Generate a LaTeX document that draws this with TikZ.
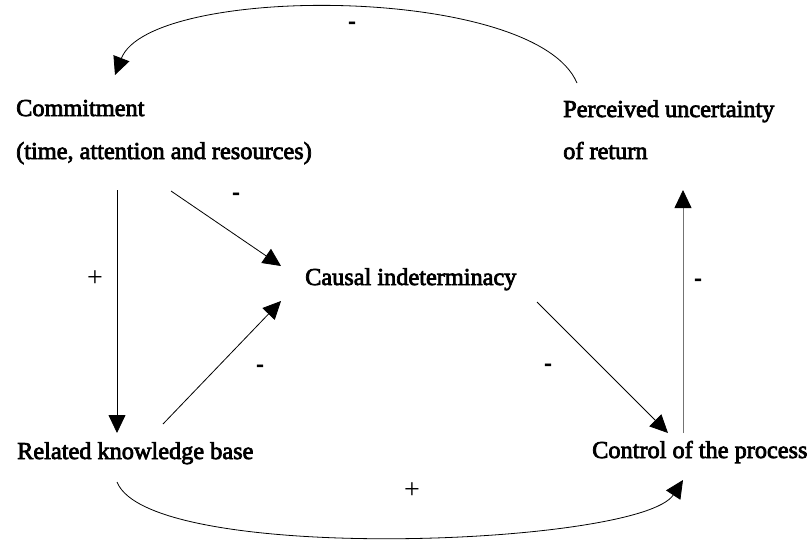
\documentclass[tikz,border=0pt]{standalone}
\usepackage{fontspec}
\setmainfont{Liberation Serif}[FakeBold=3]
\newfontfamily\signfont{Liberation Serif}
\usetikzlibrary{arrows.meta,calc}

\tikzset{
  label text/.style={inner sep=0pt, anchor=base west, font=\fontsize{24.3}{29}\selectfont},
  minus sign/.style={inner sep=0pt, font=\fontsize{22}{26}\selectfont\bfseries},
  plus sign/.style={inner sep=0pt, font=\signfont\fontsize{28}{32}\selectfont},
  link/.style={line width=0.8pt, -{Triangle[length=18pt,width=17pt,color=black]}},
}

\begin{document}
\begin{tikzpicture}[x=1pt, y=-1pt]
\useasboundingbox (0,0) rectangle (809,539);

% factor labels
\node[label text] (commit)    at (16,116)  {Commitment};
\node[label text] (commitsub) at (16,159)  {(time, attention and resources)};
\node[label text] (perceived) at (563,117) {Perceived uncertainty};
\node[label text] (ofreturn)  at (563,159) {of return};
\node[label text] (causal)    at (305,285) {Causal indeterminacy};
\node[label text] (related)   at (17,459)  {Related knowledge base};
\node[label text] (control)   at (592,458) {Control of the process};

% feedback loop over the top
\draw[link] ($(perceived.base west)+(14,-34)$)
  .. controls (535,-16) and (150,-16) .. ($(commit.base west)+(99,-41)$);

% feedback loop underneath
\draw[link] ($(related.base west)+(100,23)$)
  .. controls (150,565) and (640,546) .. ($(control.base west)+(91,22)$);

% straight links
\draw[link] ($(commitsub.base west)+(101,31)$) -- ($(related.base west)+(100,-26)$);
\draw[link] ($(commitsub.base west)+(155,32)$) -- ($(causal.base west)+(-24,-19)$);
\draw[link] ($(related.base west)+(146,-35)$) -- ($(causal.base west)+(-24,16)$);
\draw[link] ($(causal.base west)+(232,17)$) -- ($(control.base west)+(76,-25)$);
\draw[link, draw=black!55] ($(control.base west)+(91,-25)$) -- ($(ofreturn.base west)+(120,31)$);

% link polarities
\node[minus sign] (s1) at (352,25)  {-};
\node[minus sign] (s2) at (236,196) {-};
\node[plus sign]  (s3) at (95,279)  {+};
\node[minus sign] (s4) at (260,368) {-};
\node[minus sign] (s5) at (548,367) {-};
\node[minus sign] (s6) at (698,282) {-};
\node[plus sign]  (s7) at (412,491) {+};
\end{tikzpicture}
\end{document}
